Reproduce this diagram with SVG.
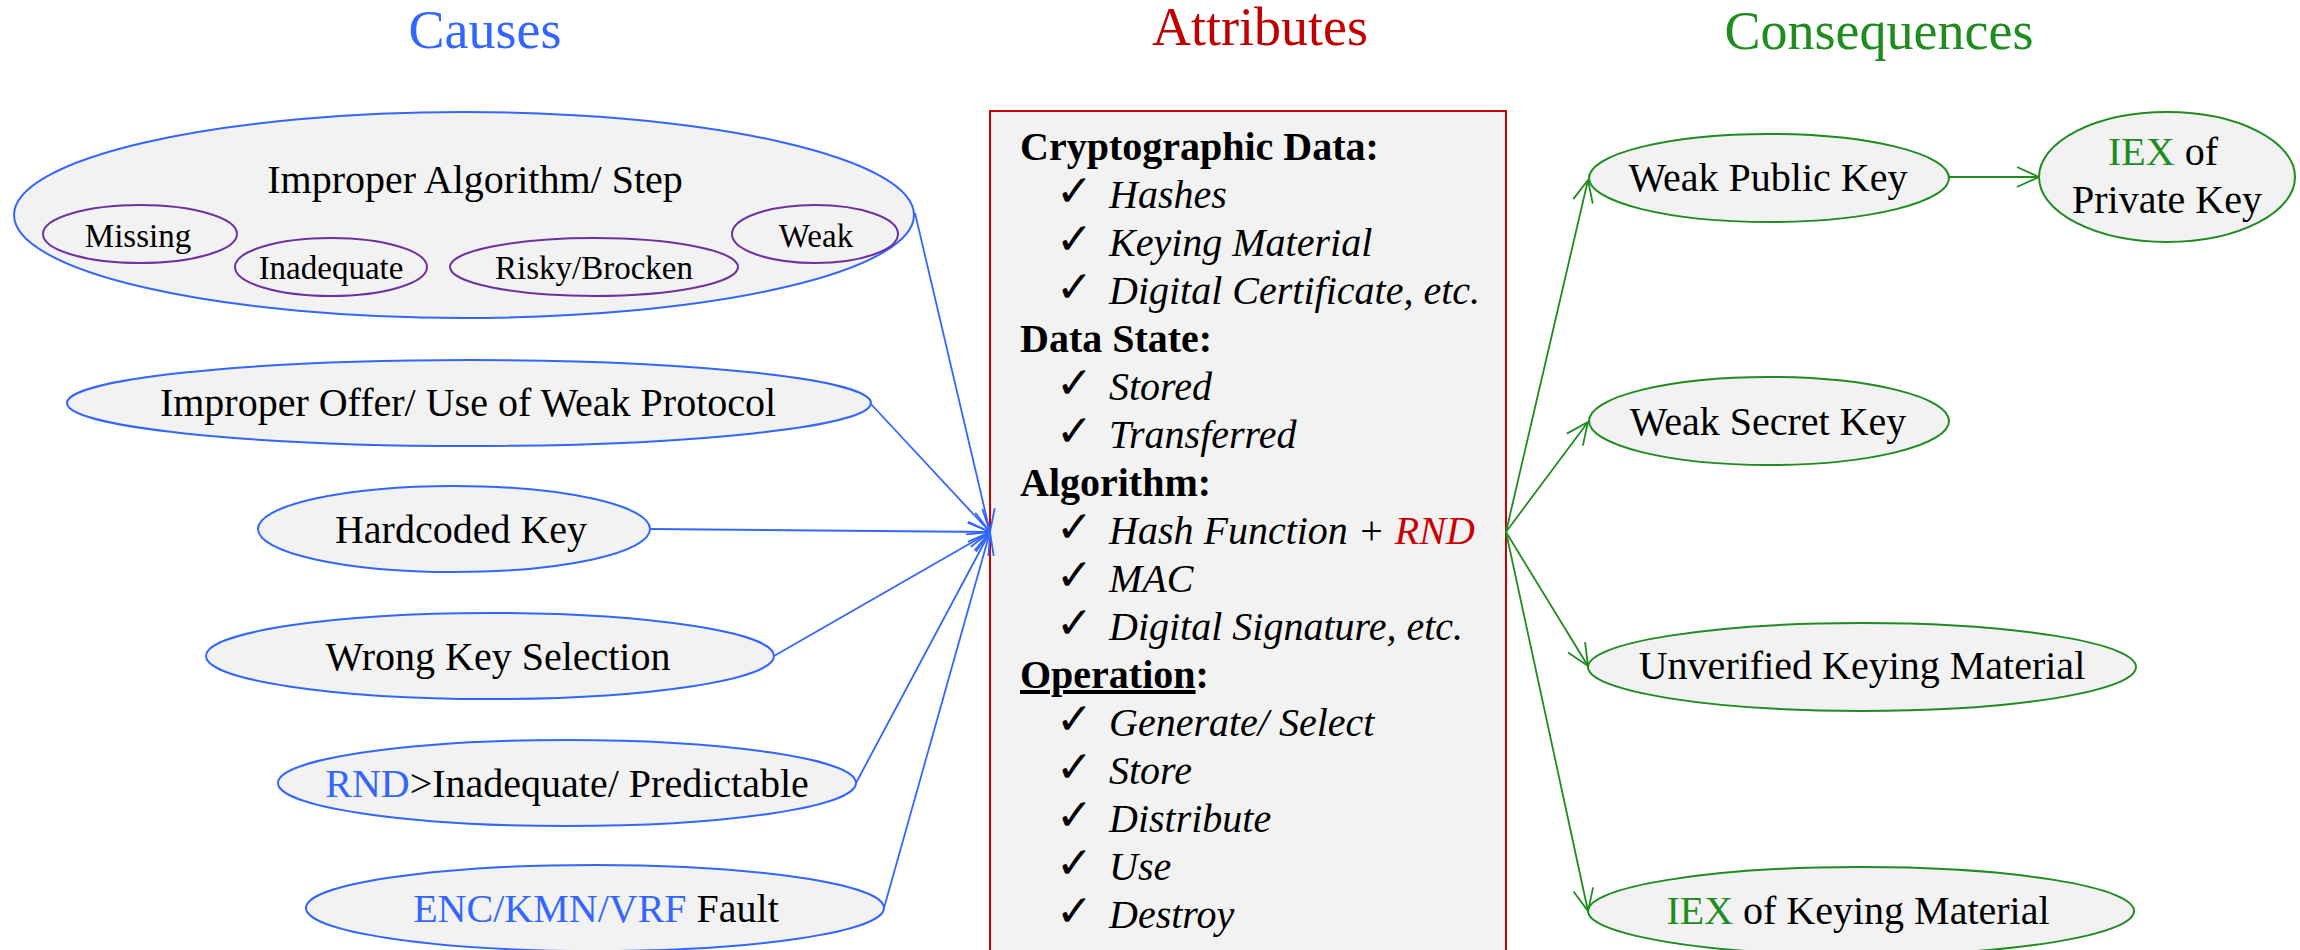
<svg xmlns="http://www.w3.org/2000/svg" width="2300" height="950" viewBox="0 0 2300 950">
<defs>
<style>
text{font-family:"Liberation Serif","Times New Roman",serif;fill:#000}
.title{font-size:54px;text-anchor:middle}
.lbl{font-size:40px;text-anchor:middle}
.sub{font-size:33px;text-anchor:middle}
.cause{fill:#F2F2F2;stroke:#3366FF;stroke-width:2}
.inner{fill:#F2F2F2;stroke:#7030A0;stroke-width:2}
.cons{fill:#F2F2F2;stroke:#1E8C1E;stroke-width:2}
.blue{fill:#3366FF}
.green{fill:#1E8C1E}
.hdr{font-size:40px;font-weight:bold}
.item{font-size:40px;font-style:italic}
.chk{font-family:"DejaVu Sans",sans-serif;font-size:44px}
.cb{stroke:#3366FF;stroke-width:1.8;fill:none}
.cg{stroke:#1E8C1E;stroke-width:1.8;fill:none}
</style>
<marker id="ab" viewBox="0 0 24 22" refX="23" refY="11" markerWidth="24" markerHeight="22" markerUnits="userSpaceOnUse" orient="auto">
<path d="M1,1 L23,11 L1,21" fill="none" stroke="#3366FF" stroke-width="1.8"/>
</marker>
<marker id="ag" viewBox="0 0 24 22" refX="23" refY="11" markerWidth="24" markerHeight="22" markerUnits="userSpaceOnUse" orient="auto">
<path d="M1,1 L23,11 L1,21" fill="none" stroke="#1E8C1E" stroke-width="1.8"/>
</marker>
</defs>
<rect width="2300" height="950" fill="#FFFFFF"/>

<text class="title" x="485" y="48" style="fill:#3366FF">Causes</text>
<text class="title" x="1260" y="45" style="fill:#C00000">Attributes</text>
<text class="title" x="1879" y="49" style="fill:#1E8C1E">Consequences</text>

<g id="attributes">
<rect x="990" y="111" width="516" height="850" fill="#F2F2F2" stroke="#CC0000" stroke-width="2"/>
<text class="hdr" x="1020" y="160">Cryptographic  Data:</text>
<text class="chk" x="1056" y="206">✓</text><text class="item" x="1109" y="208">Hashes</text>
<text class="chk" x="1056" y="254">✓</text><text class="item" x="1109" y="256">Keying Material</text>
<text class="chk" x="1056" y="302">✓</text><text class="item" x="1109" y="304">Digital Certificate, etc.</text>
<text class="hdr" x="1020" y="352">Data State:</text>
<text class="chk" x="1056" y="398">✓</text><text class="item" x="1109" y="400">Stored</text>
<text class="chk" x="1056" y="446">✓</text><text class="item" x="1109" y="448">Transferred</text>
<text class="hdr" x="1020" y="496">Algorithm:</text>
<text class="chk" x="1056" y="542">✓</text><text class="item" x="1109" y="544">Hash Function + <tspan style="fill:#CC0000">RND</tspan></text>
<text class="chk" x="1056" y="590">✓</text><text class="item" x="1109" y="592">MAC</text>
<text class="chk" x="1056" y="638">✓</text><text class="item" x="1109" y="640">Digital Signature, etc.</text>
<text class="hdr" x="1020" y="688"><tspan text-decoration="underline">Operation</tspan>:</text>
<text class="chk" x="1056" y="734">✓</text><text class="item" x="1109" y="736">Generate/ Select</text>
<text class="chk" x="1056" y="782">✓</text><text class="item" x="1109" y="784">Store</text>
<text class="chk" x="1056" y="830">✓</text><text class="item" x="1109" y="832">Distribute</text>
<text class="chk" x="1056" y="878">✓</text><text class="item" x="1109" y="880">Use</text>
<text class="chk" x="1056" y="926">✓</text><text class="item" x="1109" y="928">Destroy</text>
</g>

<g id="improper-algorithm">
<ellipse class="cause" cx="464" cy="215" rx="450" ry="103"/>
<text class="lbl" x="475" y="193">Improper Algorithm/ Step</text>
<ellipse class="inner" cx="140" cy="234" rx="97" ry="29"/>
<text class="sub" x="138" y="247">Missing</text>
<ellipse class="inner" cx="331" cy="267" rx="96" ry="29"/>
<text class="sub" x="331" y="279">Inadequate</text>
<ellipse class="inner" cx="594" cy="267" rx="144" ry="29"/>
<text class="sub" x="594" y="279">Risky/Brocken</text>
<ellipse class="inner" cx="815" cy="234" rx="83" ry="29"/>
<text class="sub" x="816" y="247">Weak</text>
</g>

<g id="improper-offer">
<ellipse class="cause" cx="469" cy="403" rx="402" ry="43"/>
<text class="lbl" x="468" y="416">Improper Offer/ Use of Weak Protocol</text>
</g>
<g id="hardcoded-key">
<ellipse class="cause" cx="454" cy="529" rx="196" ry="43"/>
<text class="lbl" x="461" y="543">Hardcoded Key</text>
</g>
<g id="wrong-key">
<ellipse class="cause" cx="490" cy="656" rx="284" ry="43"/>
<text class="lbl" x="498" y="670">Wrong Key Selection</text>
</g>
<g id="rnd">
<ellipse class="cause" cx="567" cy="783" rx="289" ry="43"/>
<text class="lbl" x="567" y="797"><tspan class="blue">RND</tspan>&gt;Inadequate/  Predictable</text>
</g>
<g id="enc">
<ellipse class="cause" cx="595" cy="908" rx="289" ry="43"/>
<text class="lbl" x="596" y="922"><tspan class="blue">ENC/KMN/VRF</tspan> Fault</text>
</g>

<g id="weak-public-key">
<ellipse class="cons" cx="1769" cy="178" rx="180" ry="44"/>
<text class="lbl" x="1768" y="191">Weak Public Key</text>
</g>
<g id="iex-private-key">
<ellipse class="cons" cx="2167" cy="177" rx="128" ry="65"/>
<text class="lbl" x="2163" y="165"><tspan class="green">IEX</tspan> of</text>
<text class="lbl" x="2167" y="213">Private Key</text>
</g>
<g id="weak-secret-key">
<ellipse class="cons" cx="1769" cy="421" rx="180" ry="44"/>
<text class="lbl" x="1768" y="435">Weak  Secret  Key</text>
</g>
<g id="unverified">
<ellipse class="cons" cx="1862" cy="667" rx="274" ry="44"/>
<text class="lbl" x="1862" y="679">Unverified Keying Material</text>
</g>
<g id="iex-keying">
<ellipse class="cons" cx="1861" cy="911" rx="273" ry="44"/>
<text class="lbl" x="1858" y="924"><tspan class="green">IEX</tspan> of Keying Material</text>
</g>

<g id="connectors">
<line class="cb" x1="915" y1="213" x2="990" y2="532" marker-end="url(#ab)"/>
<line class="cb" x1="870" y1="403" x2="990" y2="532" marker-end="url(#ab)"/>
<line class="cb" x1="650" y1="529" x2="990" y2="532" marker-end="url(#ab)"/>
<line class="cb" x1="774" y1="656" x2="990" y2="532" marker-end="url(#ab)"/>
<line class="cb" x1="856" y1="783" x2="990" y2="532" marker-end="url(#ab)"/>
<line class="cb" x1="884" y1="908" x2="990" y2="532" marker-end="url(#ab)"/>
<line class="cg" x1="1506" y1="532" x2="1588" y2="180" marker-end="url(#ag)"/>
<line class="cg" x1="1506" y1="532" x2="1588" y2="422" marker-end="url(#ag)"/>
<line class="cg" x1="1506" y1="532" x2="1588" y2="666" marker-end="url(#ag)"/>
<line class="cg" x1="1506" y1="532" x2="1588" y2="911" marker-end="url(#ag)"/>
<line class="cg" x1="1949" y1="177" x2="2039" y2="177" marker-end="url(#ag)"/>
</g>
</svg>
